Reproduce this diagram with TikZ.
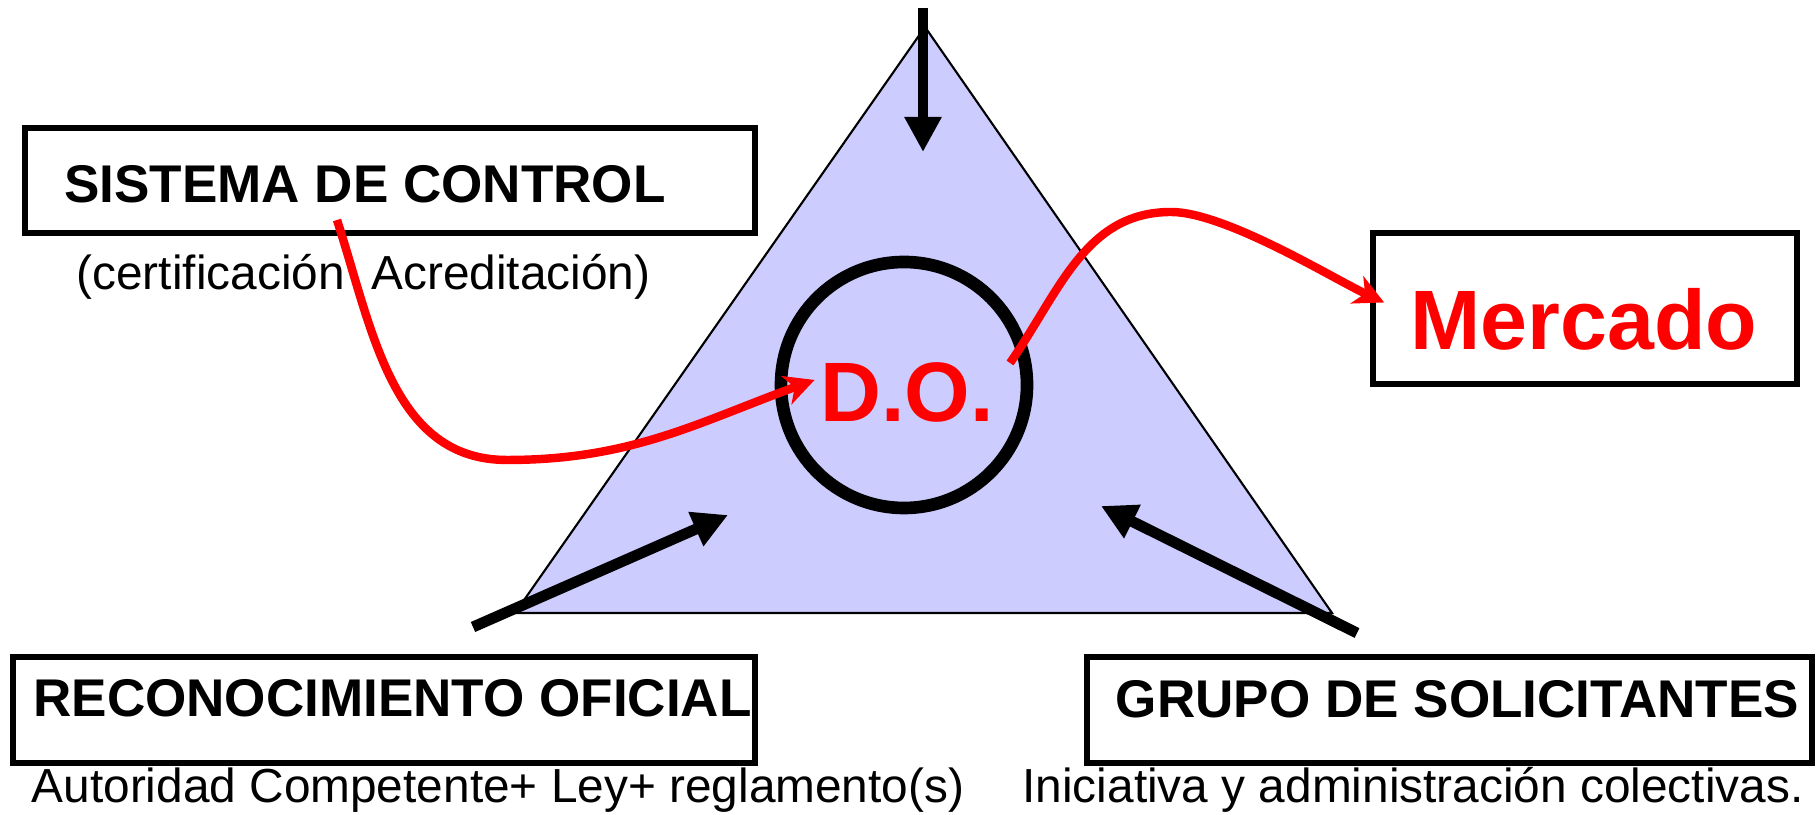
\documentclass[tikz,border=0pt]{standalone}
\usepackage{fontspec}
\setmainfont{Liberation Sans}
\usepackage{tikz}
\usetikzlibrary{positioning}
\usetikzlibrary{calc}
\usetikzlibrary{arrows.meta}
\definecolor{lila}{RGB}{204,204,255}
\definecolor{rojo}{RGB}{255,0,0}

\tikzset{
  caja/.style={draw=black, line width=1.6pt, inner sep=0pt},
  titulo/.style={font=\fontsize{15.1}{18}\selectfont\bfseries, inner sep=0pt, anchor=base},
  nota/.style={font=\fontsize{13.6}{16}\selectfont, inner sep=0pt, anchor=base},
  grande/.style={font=\fontsize{24}{28}\selectfont\bfseries, text=rojo, inner sep=0pt, anchor=base},
  flecha/.style={line width=3.1pt, -{Triangle[length=10pt,width=10pt]}},
  curva/.style={draw=rojo, line width=2.4pt, -{Stealth[length=8.5pt,width=8.5pt,inset=2.5pt]}}
}

\begin{document}
\begin{tikzpicture}
            \useasboundingbox (0,0) rectangle (18.16,8.15);
            % triangulo y circulo
            \filldraw[fill=lila, draw=black, line width=0.6pt] (5.15,2.02) -- (13.32,2.02) -- (9.25,7.88) -- cycle;
            \draw[line width=3.6pt] (9.04,4.30) circle (1.23);
            \node[grande] (do) at (9.07,3.93) {D.O.};
            % cajas
            \node[caja, minimum width=7.30cm, minimum height=1.05cm] (control) at (3.90,6.345) {};
            \node[titulo] (controlt) at (3.65,6.12) {SISTEMA DE CONTROL};
            \node[nota] (controln) at (3.635,5.25) {(certificación\ \ Acreditación)};
            \node[caja, minimum width=7.42cm, minimum height=1.06cm] (reco) at (3.84,1.05) {};
            \node[titulo] (recot) at (3.925,0.98) {RECONOCIMIENTO OFICIAL};
            \node[nota] (recon) at (4.98,0.12) {Autoridad Competente+ Ley+ reglamento(s)};
            \node[caja, minimum width=7.25cm, minimum height=1.06cm] (grupo) at (14.495,1.05) {};
            \node[titulo] (grupot) at (14.575,0.97) {GRUPO DE SOLICITANTES};
            \node[nota] (grupon) at (14.13,0.12) {Iniciativa y administración colectivas.};
            \node[caja, minimum width=4.24cm, minimum height=1.51cm] (merc) at (15.85,5.065) {};
            \node[grande] (merct) at (15.84,4.65) {Mercado};
            % flechas negras
            \coordinate (arriba) at (9.23,8.07);
            \coordinate (abajo) at (9.23,6.63);
            \coordinate (izq) at (4.73,1.88);
            \coordinate (izqfin) at (7.28,3.00);
            \coordinate (der) at (13.57,1.82);
            \coordinate (derfin) at (11.01,3.09);
            \draw[flecha] (arriba) -- (abajo);
            \draw[flecha] (izq) -- (izqfin);
            \draw[flecha] (der) -- (derfin);
            % curvas rojas
            \coordinate (s1) at (3.37,5.95);
            \coordinate (b1) at (5.07,3.55);
            \coordinate (s2) at (10.10,4.52);
            \coordinate (p2) at (11.71,6.03);
            \draw[curva] (s1) to[out=-72,in=180] (b1) to[out=0,in=200] ([shift={(-0.05,0.13)}]do.west);
            \draw[curva] (s2) to[out=55,in=180] (p2) to[out=0,in=155,looseness=0.6] ([shift={(0.14,0.06)}]merc.west);
        \end{tikzpicture}
\end{document}
